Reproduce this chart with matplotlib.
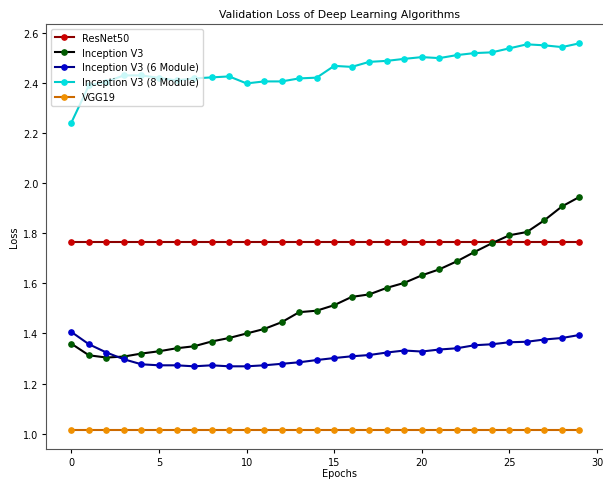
import matplotlib
matplotlib.use("Agg")  # без GUI
import matplotlib.pyplot as plt
import numpy as np

epochs = list(range(30))

resnet50 = [1.765] * 30
vgg19 = [1.016] * 30

inception_v3 = [1.359, 1.313, 1.304, 1.308, 1.320, 1.329, 1.341, 1.349, 1.368, 1.382,
                1.400, 1.418, 1.445, 1.485, 1.491, 1.513, 1.546, 1.556, 1.582, 1.602,
                1.632, 1.656, 1.688, 1.725, 1.760, 1.792, 1.805, 1.852, 1.907, 1.945]

inception_v3_6 = [1.406, 1.357, 1.324, 1.297, 1.277, 1.273, 1.273, 1.269, 1.273, 1.269,
                  1.269, 1.273, 1.279, 1.285, 1.294, 1.302, 1.309, 1.314, 1.324, 1.332,
                  1.328, 1.336, 1.341, 1.353, 1.357, 1.365, 1.367, 1.376, 1.382, 1.394]

inception_v3_8 = [2.242, 2.390, 2.405, 2.430, 2.430, 2.420, 2.410, 2.418, 2.422, 2.426,
                  2.398, 2.406, 2.406, 2.418, 2.421, 2.468, 2.464, 2.484, 2.488, 2.496,
                  2.503, 2.499, 2.511, 2.519, 2.522, 2.538, 2.554, 2.550, 2.543, 2.558]

labels = ["ResNet50", "Inception V3", "Inception V3 (6 Module)",
          "Inception V3 (8 Module)", "VGG19"]
series = [resnet50, inception_v3, inception_v3_6, inception_v3_8, vgg19]
# (цвет линии, цвет маркера)
colors = [("#8b0000", "#cc0000"), ("#000000", "#005a00"), ("#00008b", "#0000cc"),
          ("#00cccc", "#00e0e0"), ("#cc6a00", "#f09000")]

fig = plt.figure(figsize=(6.03, 4.81), dpi=100)
# права межа осей за краєм картинки, як в оригіналі
ax = fig.add_axes([0.0763, 0.0644, 0.9718, 0.8836])

for vals, lab, (lc, mc) in zip(series, labels, colors):
    ax.plot(epochs, vals, color=lc, lw=1.5, marker="o", markersize=3.8,
            markerfacecolor=mc, markeredgecolor=mc, label=lab)

ax.set_xlim(-1.45, 32.0)
ax.set_title("Validation Loss of Deep Learning Algorithms", fontsize=7.8, pad=5)
ax.set_xlabel("Epochs", fontsize=7, labelpad=1)
ax.set_ylabel("Loss", fontsize=7, labelpad=3)
ax.tick_params(labelsize=7, length=3, width=0.8, pad=2.5)
for s in ax.spines.values():
    s.set_color("#555555")
ax.legend(loc="upper left", fontsize=7)

plt.savefig("out.png")
plt.close()
